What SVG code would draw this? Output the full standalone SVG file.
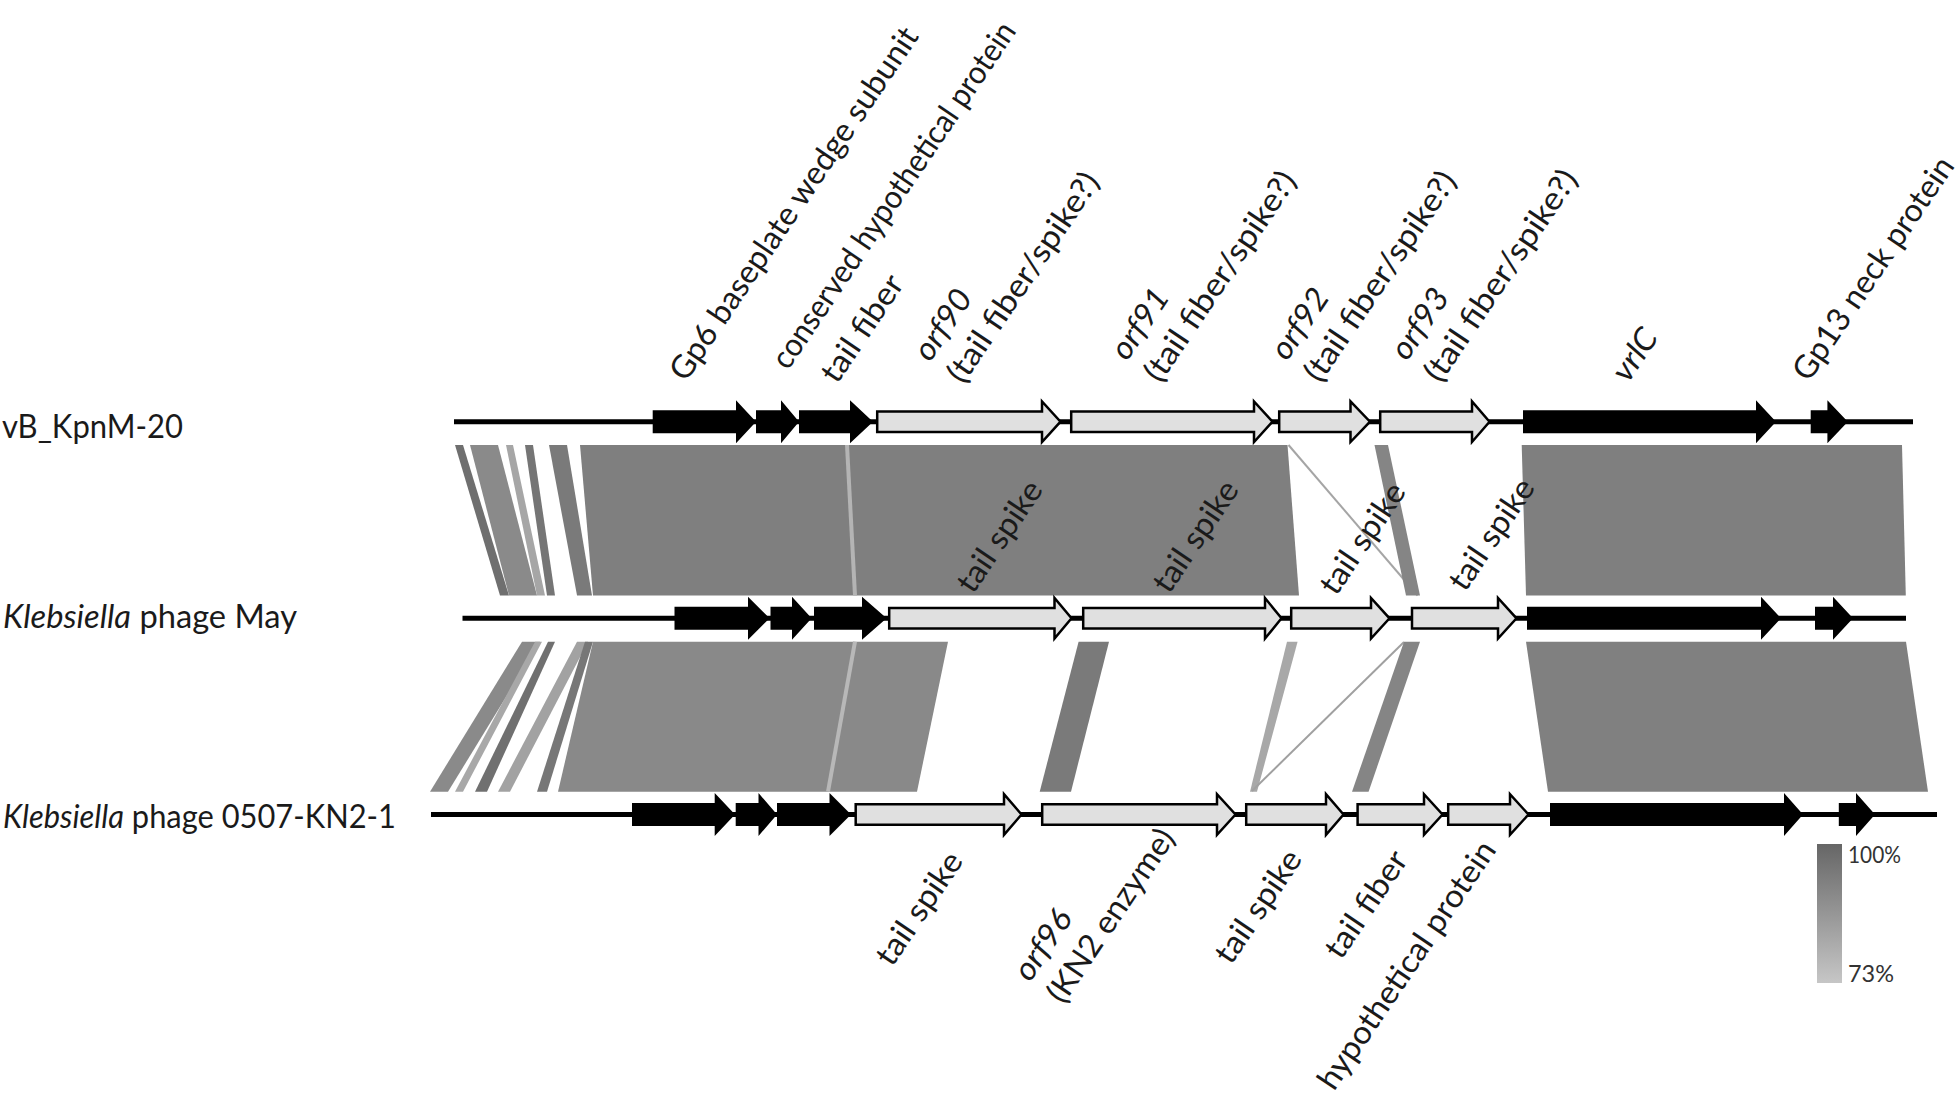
<svg xmlns="http://www.w3.org/2000/svg" width="1960" height="1099" viewBox="0 0 1960 1099">
<defs>
<linearGradient id="legGrad" x1="0" y1="0" x2="0" y2="1">
<stop offset="0" stop-color="#666666"/>
<stop offset="1" stop-color="#c6c6c6"/>
</linearGradient>
</defs>
<style>
text{font-family:Lato,"Open Sans","Liberation Sans",sans-serif;font-size:32px;fill:#1a1a1a}
.it{font-style:italic}
.bb{stroke:#000;stroke-width:5;fill:none}
.gb{fill:#000}
.gl{fill:#e0e0e0;stroke:#000;stroke-width:2.5;stroke-linejoin:miter}
.leg{font-size:23px;fill:#333}
</style>
<rect width="1960" height="1099" fill="#fff"/>

<g id="connectors">
<g id="band-top">
<polygon points="455,445 463,445 509,595.5 500,595.5" fill="#6f6f6f"/>
<polygon points="470,445 498,445 537,595.5 509,595.5" fill="#8a8a8a"/>
<polygon points="506,445 513,445 545,595.5 537,595.5" fill="#a6a6a6"/>
<polygon points="525,445 533,445 555,595.5 547,595.5" fill="#757575"/>
<polygon points="549,445 567,445 592,595.5 577,595.5" fill="#7a7a7a"/>
<polygon points="580,445 1287.5,445 1299,595.5 593,595.5" fill="#7f7f7f"/>
<line x1="847" y1="445" x2="855" y2="595.5" stroke="#b4b4b4" stroke-width="4"/>
<line x1="1288.5" y1="445" x2="1417.6" y2="595.5" stroke="#a5a5a5" stroke-width="2"/>
<polygon points="1374.5,445 1388,445 1420,595.5 1406,595.5" fill="#858585"/>
<polygon points="1521.7,445 1902,445 1905.8,595.5 1526,595.5" fill="#7f7f7f"/>
</g>
<g id="band-bottom">
<polygon points="522,641.7 540,641.7 448,791.7 430,791.7" fill="#8a8a8a"/>
<polygon points="535,641.7 542,641.7 463,791.7 455,791.7" fill="#a8a8a8"/>
<polygon points="548,641.7 555,641.7 487,791.7 475,791.7" fill="#707070"/>
<polygon points="577,641.7 588,641.7 510,791.7 498,791.7" fill="#a2a2a2"/>
<polygon points="585,641.7 593,641.7 547,791.7 537,791.7" fill="#777777"/>
<polygon points="593,641.7 948,641.7 917,791.7 558,791.7" fill="#898989"/>
<line x1="855" y1="641.7" x2="828" y2="791.7" stroke="#b8b8b8" stroke-width="4"/>
<polygon points="1078.6,641.7 1109,641.7 1071,791.7 1039.7,791.7" fill="#7a7a7a"/>
<polygon points="1287,641.7 1297.6,641.7 1257,791.7 1250,791.7" fill="#a8a8a8"/>
<line x1="1404" y1="642" x2="1252" y2="791" stroke="#a0a0a0" stroke-width="2"/>
<polygon points="1404,641.7 1420,641.7 1368.6,791.7 1352,791.7" fill="#858585"/>
<polygon points="1526,641.7 1906,641.7 1928,791.7 1548,791.7" fill="#808080"/>
</g>
</g>

<g id="genome-vB_KpnM-20">
<text x="2" y="438" textLength="181" lengthAdjust="spacingAndGlyphs">vB_KpnM-20</text>
<line class="bb" x1="454" y1="421.7" x2="1913" y2="421.7"/>
<g id="t-gp6"><polygon class="gb" points="652.7,410.2 736,410.2 736,400.2 756,421.7 736,443.2 736,433.2 652.7,433.2"/>
<text transform="translate(686 383) rotate(-56)" textLength="418" lengthAdjust="spacingAndGlyphs">Gp6 baseplate wedge subunit</text></g>
<g id="t-chp"><polygon class="gb" points="756,410.2 781,410.2 781,400.2 799,421.7 781,443.2 781,433.2 756,433.2"/>
<text transform="translate(788 371) rotate(-56)" font-size="30" textLength="410" lengthAdjust="spacingAndGlyphs">conserved hypothetical protein</text></g>
<g id="t-fiber"><polygon class="gb" points="799,410.2 850,410.2 850,400.2 873,421.7 850,443.2 850,433.2 799,433.2"/>
<text transform="translate(837 385) rotate(-56)" textLength="122" lengthAdjust="spacingAndGlyphs">tail fiber</text></g>
<g id="t-orf90"><polygon class="gl" points="877.2,411.4 1042,411.4 1042,401.4 1060.5,421.7 1042,442 1042,432 877.2,432"/>
<text transform="translate(930 363) rotate(-56)"><tspan class="it" x="0" y="0" textLength="78" lengthAdjust="spacingAndGlyphs">orf90</tspan><tspan x="0" y="40" textLength="246" lengthAdjust="spacingAndGlyphs">(tail fiber/spike?)</tspan></text></g>
<g id="t-orf91"><polygon class="gl" points="1071.2,411.4 1254,411.4 1254,401.4 1272.5,421.7 1254,442 1254,432 1071.2,432"/>
<text transform="translate(1127 362) rotate(-56)"><tspan class="it" x="0" y="0" textLength="78" lengthAdjust="spacingAndGlyphs">orf91</tspan><tspan x="0" y="40" textLength="246" lengthAdjust="spacingAndGlyphs">(tail fiber/spike?)</tspan></text></g>
<g id="t-orf92"><polygon class="gl" points="1279.2,411.4 1350.5,411.4 1350.5,401.4 1370,421.7 1350.5,442 1350.5,432 1279.2,432"/>
<text transform="translate(1287 362) rotate(-56)"><tspan class="it" x="0" y="0" textLength="78" lengthAdjust="spacingAndGlyphs">orf92</tspan><tspan x="0" y="40" textLength="246" lengthAdjust="spacingAndGlyphs">(tail fiber/spike?)</tspan></text></g>
<g id="t-orf93"><polygon class="gl" points="1380.2,411.4 1472,411.4 1472,401.4 1489.5,421.7 1472,442 1472,432 1380.2,432"/>
<text transform="translate(1407 362) rotate(-56)"><tspan class="it" x="0" y="0" textLength="78" lengthAdjust="spacingAndGlyphs">orf93</tspan><tspan x="0" y="40" textLength="248" lengthAdjust="spacingAndGlyphs">(tail fiber/spike?)</tspan></text></g>
<g id="t-vrlC"><polygon class="gb" points="1523,410.2 1756,410.2 1756,400.2 1776,421.7 1756,443.2 1756,433.2 1523,433.2"/>
<text class="it" transform="translate(1628 384) rotate(-56)" textLength="56" lengthAdjust="spacingAndGlyphs">vrlC</text></g>
<g id="t-gp13"><polygon class="gb" points="1810.7,410.2 1827.4,410.2 1827.4,400.2 1847.8,421.7 1827.4,443.2 1827.4,433.2 1810.7,433.2"/>
<text transform="translate(1809 383) rotate(-56)" textLength="262" lengthAdjust="spacingAndGlyphs">Gp13 neck protein</text></g>
</g>

<g id="genome-May">
<text x="3" y="628" textLength="294" lengthAdjust="spacingAndGlyphs"><tspan class="it">Klebsiella</tspan> phage May</text>
<line class="bb" x1="462.5" y1="618.3" x2="1906" y2="618.3"/>
<g id="m-1"><polygon class="gb" points="674.5,606.8 748,606.8 748,596.8 769.6,618.3 748,639.8 748,629.8 674.5,629.8"/></g>
<g id="m-2"><polygon class="gb" points="770.5,606.8 792,606.8 792,596.8 811.6,618.3 792,639.8 792,629.8 770.5,629.8"/></g>
<g id="m-3"><polygon class="gb" points="814,606.8 862,606.8 862,596.8 886.6,618.3 862,639.8 862,629.8 814,629.8"/></g>
<g id="m-4"><polygon class="gl" points="889.2,608 1054.5,608 1054.5,598 1071.5,618.3 1054.5,638.6 1054.5,628.6 889.2,628.6"/>
<text transform="translate(973 595) rotate(-56)" textLength="127" lengthAdjust="spacingAndGlyphs">tail spike</text></g>
<g id="m-5"><polygon class="gl" points="1083.2,608 1265,608 1265,598 1281.5,618.3 1265,638.6 1265,628.6 1083.2,628.6"/>
<text transform="translate(1169 595) rotate(-56)" textLength="127" lengthAdjust="spacingAndGlyphs">tail spike</text></g>
<g id="m-6"><polygon class="gl" points="1291.2,608 1371,608 1371,598 1389.5,618.3 1371,638.6 1371,628.6 1291.2,628.6"/>
<text transform="translate(1336 597) rotate(-56)" textLength="127" lengthAdjust="spacingAndGlyphs">tail spike</text></g>
<g id="m-7"><polygon class="gl" points="1412,608 1498,608 1498,598 1516.5,618.3 1498,638.6 1498,628.6 1412,628.6"/>
<text transform="translate(1465 593) rotate(-56)" textLength="127" lengthAdjust="spacingAndGlyphs">tail spike</text></g>
<g id="m-vrlC"><polygon class="gb" points="1527,606.8 1761,606.8 1761,596.8 1781,618.3 1761,639.8 1761,629.8 1527,629.8"/></g>
<g id="m-gp13"><polygon class="gb" points="1815,606.8 1833,606.8 1833,596.8 1853,618.3 1833,639.8 1833,629.8 1815,629.8"/></g>
</g>

<g id="genome-0507-KN2-1">
<text x="3" y="828" textLength="393" lengthAdjust="spacingAndGlyphs"><tspan class="it">Klebsiella</tspan> phage 0507-KN2-1</text>
<line class="bb" x1="431" y1="814.5" x2="1937" y2="814.5"/>
<g id="k-1"><polygon class="gb" points="632,803 714.7,803 714.7,793 735,814.5 714.7,836 714.7,826 632,826"/></g>
<g id="k-2"><polygon class="gb" points="735.7,803 758.5,803 758.5,793 777,814.5 758.5,836 758.5,826 735.7,826"/></g>
<g id="k-3"><polygon class="gb" points="777,803 829.5,803 829.5,793 851,814.5 829.5,836 829.5,826 777,826"/></g>
<g id="k-4"><polygon class="gl" points="855.7,804.2 1004,804.2 1004,794.2 1021.5,814.5 1004,834.8 1004,824.8 855.7,824.8"/>
<text transform="translate(892 968) rotate(-56)" textLength="129" lengthAdjust="spacingAndGlyphs">tail spike</text></g>
<g id="k-5"><polygon class="gl" points="1042.2,804.2 1217,804.2 1217,794.2 1235.5,814.5 1217,834.8 1217,824.8 1042.2,824.8"/>
<text transform="translate(1030 983) rotate(-56)"><tspan class="it" x="0" y="0" textLength="78" lengthAdjust="spacingAndGlyphs">orf96</tspan><tspan x="0" y="40" textLength="202" lengthAdjust="spacingAndGlyphs">(KN2 enzyme)</tspan></text></g>
<g id="k-6"><polygon class="gl" points="1246.2,804.2 1326,804.2 1326,794.2 1343.5,814.5 1326,834.8 1326,824.8 1246.2,824.8"/>
<text transform="translate(1231 966) rotate(-56)" textLength="129" lengthAdjust="spacingAndGlyphs">tail spike</text></g>
<g id="k-7"><polygon class="gl" points="1357.6,804.2 1424,804.2 1424,794.2 1442.5,814.5 1424,834.8 1424,824.8 1357.6,824.8"/>
<text transform="translate(1341 961) rotate(-56)" textLength="122" lengthAdjust="spacingAndGlyphs">tail fiber</text></g>
<g id="k-8"><polygon class="gl" points="1448.2,804.2 1510,804.2 1510,794.2 1528.5,814.5 1510,834.8 1510,824.8 1448.2,824.8"/>
<text transform="translate(1334 1092) rotate(-56)" textLength="292" lengthAdjust="spacingAndGlyphs">hypothetical protein</text></g>
<g id="k-vrlC"><polygon class="gb" points="1550,803 1784,803 1784,793 1803,814.5 1784,836 1784,826 1550,826"/></g>
<g id="k-gp13"><polygon class="gb" points="1838.8,803 1856,803 1856,793 1875,814.5 1856,836 1856,826 1838.8,826"/></g>
</g>

<g id="legend">
<rect x="1817" y="844" width="25" height="139" fill="url(#legGrad)"/>
<text class="leg" x="1848" y="863" textLength="53" lengthAdjust="spacingAndGlyphs">100%</text>
<text class="leg" x="1848" y="982" textLength="46" lengthAdjust="spacingAndGlyphs">73%</text>
</g>
</svg>
